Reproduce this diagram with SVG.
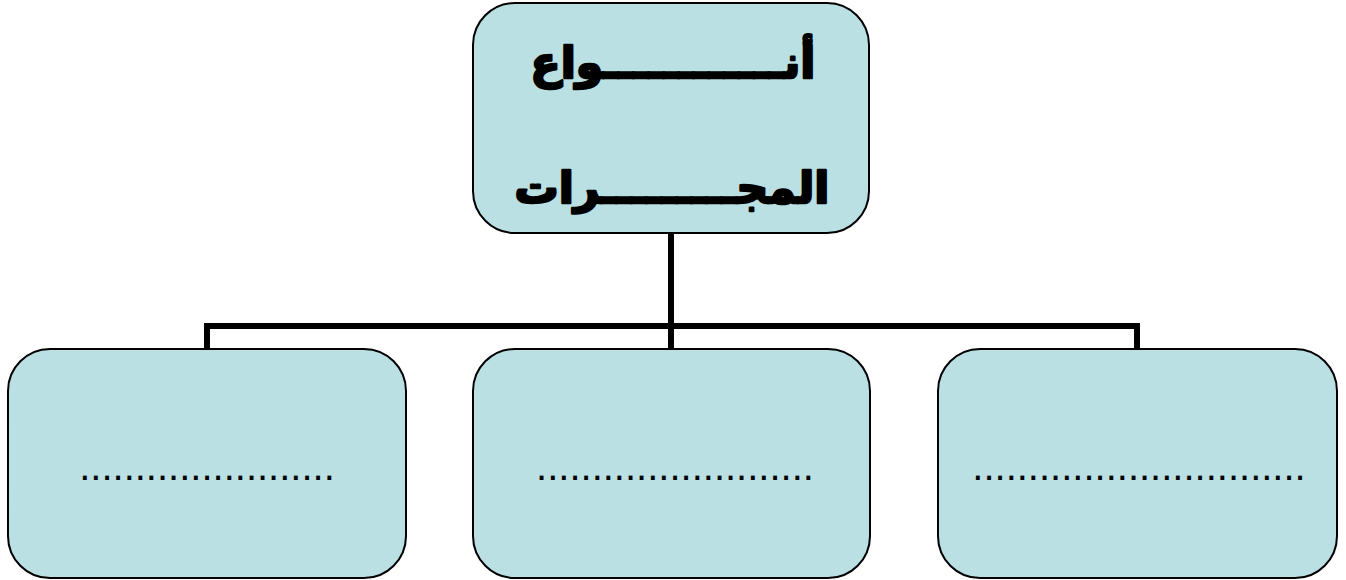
<svg xmlns="http://www.w3.org/2000/svg" width="1346" height="580" viewBox="0 0 1346 580">
<style>
.box{fill:#BAE0E4;stroke:#000;stroke-width:2}
.conn{fill:none;stroke:#000;stroke-width:6;stroke-linejoin:miter}
.title{font-family:"DejaVu Sans",sans-serif;font-weight:bold;font-size:44px;fill:#000;stroke:#000;stroke-width:2.5;stroke-linejoin:round;text-anchor:middle}
.dots{font-family:"Liberation Sans",sans-serif;font-size:40px;fill:#000;text-anchor:middle}
</style>
<rect width="1346" height="580" fill="#fff"/>
<g id="connectors">
<path class="conn" d="M671 233 V326"/>
<path class="conn" d="M207 349 V326 H1137 V349"/>
<path class="conn" d="M671 326 V349"/>
</g>
<g id="top">
<rect class="box" x="473" y="3" width="396" height="230" rx="42"/>
<text class="title" x="673" y="78" direction="rtl">أنــــــــــــواع</text>
<text class="title" x="672" y="203" direction="rtl">المجـــــــــرات</text>
</g>
<g id="left">
<rect class="box" x="8" y="349" width="398" height="229" rx="42"/>
<text class="dots" x="207" y="480">.......................</text>
</g>
<g id="middle">
<rect class="box" x="473" y="349" width="397" height="229" rx="42"/>
<text class="dots" x="675" y="480">.........................</text>
</g>
<g id="right">
<rect class="box" x="938" y="349" width="399" height="229" rx="42"/>
<text class="dots" x="1139" y="480">..............................</text>
</g>
</svg>
